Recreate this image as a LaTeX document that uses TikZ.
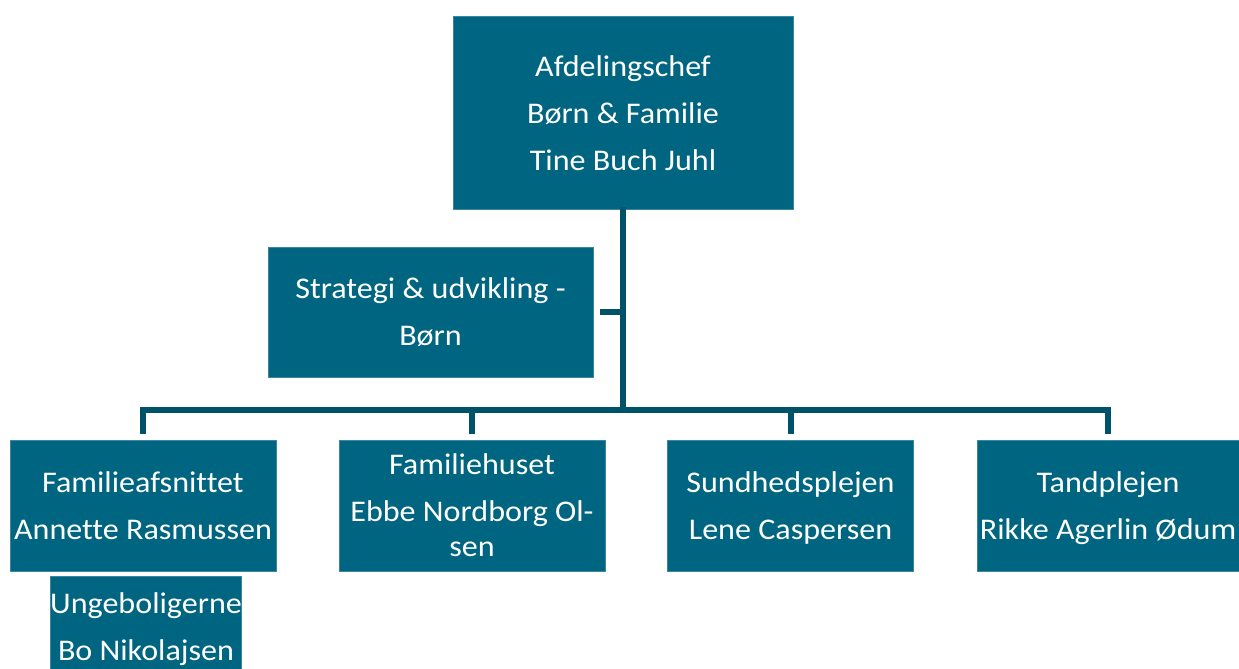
\documentclass[tikz,border=0pt]{standalone}
\usepackage{fontspec}
\setmainfont{Carlito}[Ligatures=NoCommon,FakeStretch=1.07]
\definecolor{boxfill}{RGB}{0,101,128}
\definecolor{boxedge}{RGB}{60,135,160}
\definecolor{linkc}{RGB}{0,82,104}
\newcommand\toprl{\rule{0pt}{28pt}}
\newcommand\botrl{\rule[-8pt]{0pt}{8pt}}
\begin{document}
\begin{tikzpicture}[x=1pt,y=-1pt,
  orgbox/.style={fill=boxfill,draw=boxedge,line width=1pt,text=white,inner sep=0pt,
    align=center,font=\fontsize{30}{47}\selectfont},
  link/.style={draw=linkc,line width=6pt}]
\clip (0,0) rectangle (1239,669);
\fill[white] (0,0) rectangle (1239,669);
\node[orgbox,minimum width=340pt,minimum height=192pt] (top) at (623,113)
  {\toprl Afdelingschef\\Børn \& Familie\\Tine Buch Juhl\botrl};
\node[orgbox,minimum width=325pt,minimum height=130pt] (strat) at (430.5,312)
  {\toprl Strategi \& udvikling -\\Børn\botrl};
\node[orgbox,minimum width=266pt,minimum height=131pt] (fam) at (143,505.5)
  {\toprl Familieafsnittet\\Annette Rasmussen\botrl};
\node[orgbox,minimum width=266pt,minimum height=131pt] (fh) at (472,505.5)
  {\toprl Familiehuset\\Ebbe Nordborg Ol-\\[-12pt]sen\botrl};
\node[orgbox,minimum width=246pt,minimum height=131pt] (sund) at (790.5,505.5)
  {\toprl Sundhedsplejen\\Lene Caspersen\botrl};
\node[orgbox,minimum width=262pt,minimum height=131pt] (tand) at (1108,505.5)
  {\toprl Tandplejen\\Rikke Agerlin Ødum\botrl};
\node[orgbox,minimum width=190pt,minimum height=102pt] (unge) at (146,627)
  {\toprl Ungeboligerne\\Bo Nikolajsen\botrl};
\coordinate (bar) at (0,409.5);
\path[link,line cap=rect] (top.south) -- (top.south |- bar);
\path[link] ([yshift=6pt]fam.north) -- (fam.north |- bar) -- (tand.north |- bar) -- ([yshift=6pt]tand.north);
\path[link] ([yshift=6pt]fh.north) -- (fh.north |- bar);
\path[link] ([yshift=6pt]sund.north) -- (sund.north |- bar);
\path[link] ([xshift=6pt]strat.east) -- (strat.east -| top.south);
\end{tikzpicture}
\end{document}
